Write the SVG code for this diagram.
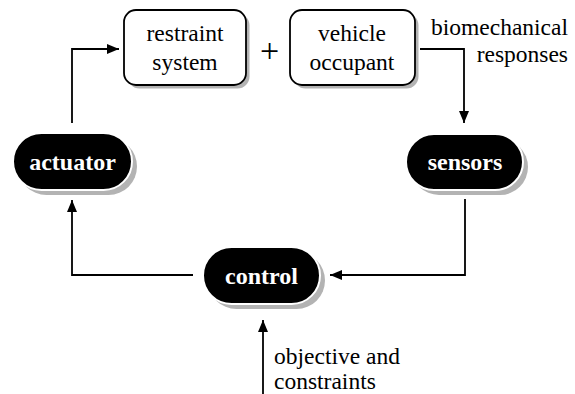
<svg xmlns="http://www.w3.org/2000/svg" width="575" height="394" viewBox="0 0 575 394">
  <defs>
    <marker id="arr" viewBox="0 0 12 10" refX="12" refY="5" markerWidth="12" markerHeight="10" markerUnits="userSpaceOnUse" orient="auto">
      <path d="M0,0 L12,5 L0,10 Z" fill="#000"/>
    </marker>
  </defs>
  <style>
    .box { fill: #fff; stroke: #000; stroke-width: 1.8; }
    .bshadow { fill: #b3b3b3; }
    .pill { fill: #000; stroke: #fff; stroke-width: 2; }
    .pshadow { fill: #b3b3b3; }
    text { font-family: "Liberation Serif", Tinos, "Times New Roman", Times, "DejaVu Serif", serif; }
    .t { font-size: 23.5px; fill: #000; }
    .tb { font-size: 24px; font-weight: bold; fill: #fff; text-anchor: middle; }
    .c { fill: none; stroke: #000; stroke-width: 1.8; marker-end: url(#arr); }
  </style>
  <rect width="575" height="394" fill="#fff"/>

  <g id="connectors">
    <path class="c" d="M72,123 V49 H119"/>
    <path class="c" d="M420,49 H464 V123"/>
    <path class="c" d="M465,199 V275 H330"/>
    <path class="c" d="M193,275 H72 V200"/>
    <path class="c" d="M263,394 V320"/>
  </g>

  <g id="restraint">
    <rect class="bshadow" x="127.5" y="13.5" width="122" height="75" rx="12"/>
    <rect class="box" x="124" y="10" width="122" height="75" rx="12"/>
    <text class="t" x="185" y="41" text-anchor="middle">restraint</text>
    <text class="t" x="185" y="70" text-anchor="middle">system</text>
  </g>

  <g id="plus">
    <text class="t" x="269.5" y="62" text-anchor="middle" style="font-size:34px">+</text>
  </g>

  <g id="occupant">
    <rect class="bshadow" x="293.5" y="13.5" width="125" height="75" rx="12"/>
    <rect class="box" x="290" y="10" width="125" height="75" rx="12"/>
    <text class="t" x="352" y="41" text-anchor="middle">vehicle</text>
    <text class="t" x="352" y="70" text-anchor="middle">occupant</text>
  </g>

  <g id="responses-label">
    <text class="t" x="568" y="35" text-anchor="end">biomechanical</text>
    <text class="t" x="568" y="62" text-anchor="end">responses</text>
  </g>

  <g id="actuator">
    <rect class="pshadow" x="18" y="138" width="119" height="57" rx="28.5"/>
    <rect class="pill" x="13" y="133" width="119" height="57" rx="28.5"/>
    <text class="tb" x="72.5" y="170">actuator</text>
  </g>

  <g id="sensors">
    <rect class="pshadow" x="411" y="139" width="117" height="56" rx="28"/>
    <rect class="pill" x="406" y="134" width="117" height="56" rx="28"/>
    <text class="tb" x="465" y="170">sensors</text>
  </g>

  <g id="control">
    <rect class="pshadow" x="208" y="252" width="117" height="57" rx="28.5"/>
    <rect class="pill" x="203" y="247" width="117" height="57" rx="28.5"/>
    <text class="tb" x="261.5" y="284">control</text>
  </g>

  <g id="objective-label">
    <text class="t" x="274" y="364">objective and</text>
    <text class="t" x="274" y="389">constraints</text>
  </g>
</svg>
